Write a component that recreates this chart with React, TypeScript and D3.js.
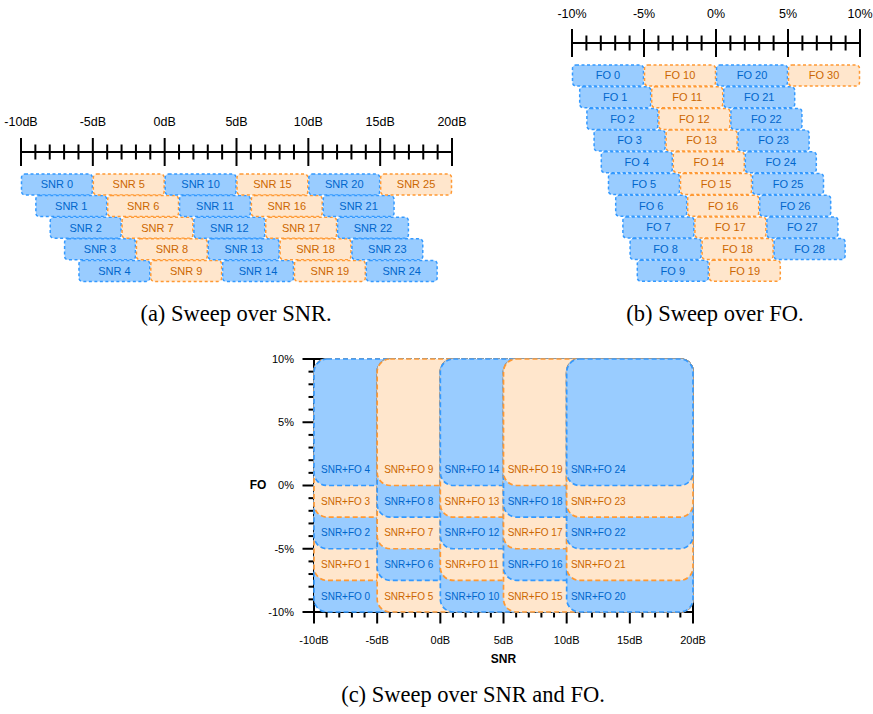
import React from 'react';
import * as d3 from 'd3';

// ---------- Data ----------
// (a) Sweep over SNR: each box spans 5 dB starting at snrStart
const snrIds = [0, 1, 2, 3, 4, 5, 6, 7, 8, 9, 10, 11, 12, 13, 14, 15, 16, 17, 18, 19, 20, 21, 22, 23, 24, 25];
const snrStart = [-10, -9, -8, -7, -6, -5, -4, -3, -2, -1, 0, 1, 2, 3, 4, 5, 6, 7, 8, 9, 10, 11, 12, 13, 14, 15];
const snrRow = [0, 1, 2, 3, 4, 0, 1, 2, 3, 4, 0, 1, 2, 3, 4, 0, 1, 2, 3, 4, 0, 1, 2, 3, 4, 0];
const snrGroup = [0, 0, 0, 0, 0, 1, 1, 1, 1, 1, 0, 0, 0, 0, 0, 1, 1, 1, 1, 1, 0, 0, 0, 0, 0, 1];
const snrSpan = 5;
const snrTickValues = [-10, -5, 0, 5, 10, 15, 20];
const snrTickLabels = ['-10dB', '-5dB', '0dB', '5dB', '10dB', '15dB', '20dB'];

// (b) Sweep over FO: each box spans 5 % starting at foStart
const foIds = [0, 1, 2, 3, 4, 5, 6, 7, 8, 9, 10, 11, 12, 13, 14, 15, 16, 17, 18, 19, 20, 21, 22, 23, 24, 25, 26, 27, 28, 30];
const foStart = [-10, -9.5, -9, -8.5, -8, -7.5, -7, -6.5, -6, -5.5, -5, -4.5, -4, -3.5, -3, -2.5, -2, -1.5, -1, -0.5, 0, 0.5, 1, 1.5, 2, 2.5, 3, 3.5, 4, 5];
const foRow = [0, 1, 2, 3, 4, 5, 6, 7, 8, 9, 0, 1, 2, 3, 4, 5, 6, 7, 8, 9, 0, 1, 2, 3, 4, 5, 6, 7, 8, 0];
const foGroup = [0, 0, 0, 0, 0, 0, 0, 0, 0, 0, 1, 1, 1, 1, 1, 1, 1, 1, 1, 1, 0, 0, 0, 0, 0, 0, 0, 0, 0, 1];
const foSpan = 5;
const foTickValues = [-10, -5, 0, 5, 10];
const foTickLabels = ['-10%', '-5%', '0%', '5%', '10%'];

// (c) Sweep over SNR and FO
const gridColStart = [-10, -5, 0, 5, 10];
const gridRowBottom = [-10, -7.5, -5, -2.5, 0];
const gridRowBand = 2.5;
const gridLabelSpan = 5;

// ---------- Styles ----------
const FILL = ['#99CCFF', '#FFE6CC'];
const STROKE = ['#3399FF', '#FF9933'];
const TEXT = ['#0066CC', '#CC6600'];
const SANS = '"Liberation Sans", Arial, Helvetica, sans-serif';
const SERIF = '"Liberation Serif", "Times New Roman", serif';

// ---------- Scales ----------
const xA = d3.scaleLinear().domain([-10, 20]).range([21, 452]);
const xB = d3.scaleLinear().domain([-10, 10]).range([572, 860]);
const xC = d3.scaleLinear().domain([-10, 20]).range([314, 693]);
const yC = d3.scaleLinear().domain([-10, 10]).range([612, 359]);

function HAxis({ scale, y, majors, minors, labels, labelY, fontSize, majorHalf, minorHalf, width }: any) {
  const [d0, d1] = scale.domain();
  return (
    <g>
      <line x1={scale(d0)} x2={scale(d1)} y1={y} y2={y} stroke="#000" strokeWidth={width} />
      {minors.map((v: number) => (
        <line key={'m' + v} x1={scale(v)} x2={scale(v)} y1={y - minorHalf} y2={y + minorHalf} stroke="#000" strokeWidth={width} />
      ))}
      {majors.map((v: number, i: number) => (
        <g key={'M' + v}>
          <line x1={scale(v)} x2={scale(v)} y1={y - majorHalf} y2={y + majorHalf} stroke="#000" strokeWidth={width} />
          {labels && (
            <text x={scale(v)} y={labelY} textAnchor="middle" fontFamily={SANS} fontSize={fontSize} fill="#000">
              {labels[i]}
            </text>
          )}
        </g>
      ))}
    </g>
  );
}

function VAxis({ scale, x, majors, minors, labels, labelX, fontSize, majorHalf, minorHalf, width }: any) {
  const [d0, d1] = scale.domain();
  return (
    <g>
      <line y1={scale(d0)} y2={scale(d1)} x1={x} x2={x} stroke="#000" strokeWidth={width} />
      {minors.map((v: number) => (
        <line key={'m' + v} y1={scale(v)} y2={scale(v)} x1={x - minorHalf} x2={x + minorHalf} stroke="#000" strokeWidth={width} />
      ))}
      {majors.map((v: number, i: number) => (
        <g key={'M' + v}>
          <line y1={scale(v)} y2={scale(v)} x1={x - majorHalf} x2={x + majorHalf} stroke="#000" strokeWidth={width} />
          <text x={labelX} y={scale(v)} dy="0.35em" textAnchor="end" fontFamily={SANS} fontSize={fontSize} fill="#000">
            {labels[i]}
          </text>
        </g>
      ))}
    </g>
  );
}

export default function App() {
  const snrMinors = d3.range(-10, 21, 1).filter((v) => v % 5 !== 0);
  const foMinors = d3.range(-10, 11, 1).filter((v) => v % 5 !== 0);

  const aTop = 174, aStep = 21.6, aH = 21;
  const bTop = 65, bStep = 21.7, bH = 21;

  // grid boxes in drawing order (colour alternates by column and row)
  const gridBoxes: any[] = [];
  gridColStart.forEach((c, ci) => {
    gridRowBottom.forEach((r, ri) => {
      gridBoxes.push({ id: ci * 5 + ri, c, r, g: (ci + ri) % 2 });
    });
  });

  return (
    <svg width={873} height={714} style={{ position: 'absolute', left: 0, top: 0, background: '#fff' }}>
      {/* (a) */}
      <HAxis scale={xA} y={152} majors={snrTickValues} minors={snrMinors} labels={snrTickLabels}
        labelY={125.5} fontSize={12.5} majorHalf={14} minorHalf={7.5} width={2} />
      {snrIds.map((id, i) => {
        const x0 = xA(snrStart[i]);
        const x1 = xA(snrStart[i] + snrSpan);
        const y = aTop + snrRow[i] * aStep;
        const g = snrGroup[i];
        return (
          <g key={'a' + id}>
            <rect x={x0 + 0.5} y={y} width={x1 - x0 - 1} height={aH} rx={3.5}
              fill={FILL[g]} stroke={STROKE[g]} strokeWidth={1.5} strokeDasharray="3 2.5" />
            <text x={(x0 + x1) / 2} y={y + aH / 2} dy="0.35em" textAnchor="middle" fontFamily={SANS} fontSize={11} fill={TEXT[g]}>
              {'SNR ' + id}
            </text>
          </g>
        );
      })}
      <text x={236} y={321} textAnchor="middle" fontFamily={SERIF} fontSize={22.5} fill="#000">(a) Sweep over SNR.</text>

      {/* (b) */}
      <HAxis scale={xB} y={43} majors={foTickValues} minors={foMinors} labels={foTickLabels}
        labelY={17.5} fontSize={12.5} majorHalf={14} minorHalf={7.5} width={2} />
      {foIds.map((id, i) => {
        const x0 = xB(foStart[i]);
        const x1 = xB(foStart[i] + foSpan);
        const y = bTop + foRow[i] * bStep;
        const g = foGroup[i];
        return (
          <g key={'b' + id}>
            <rect x={x0 + 0.5} y={y} width={x1 - x0 - 1} height={bH} rx={3.5}
              fill={FILL[g]} stroke={STROKE[g]} strokeWidth={1.5} strokeDasharray="3 2.5" />
            <text x={(x0 + x1) / 2} y={y + bH / 2} dy="0.35em" textAnchor="middle" fontFamily={SANS} fontSize={11} fill={TEXT[g]}>
              {'FO ' + id}
            </text>
          </g>
        );
      })}
      <text x={715} y={321} textAnchor="middle" fontFamily={SERIF} fontSize={22.5} fill="#000">(b) Sweep over FO.</text>

      {/* (c) */}
      <HAxis scale={xC} y={612} majors={snrTickValues} minors={snrMinors} labels={snrTickLabels}
        labelY={644} fontSize={11} majorHalf={11.5} minorHalf={5.5} width={2} />
      <VAxis scale={yC} x={314} majors={foTickValues} minors={foMinors} labels={foTickLabels}
        labelX={294} fontSize={11} majorHalf={11.5} minorHalf={5.5} width={2} />
      {gridBoxes.map((b) => {
        const x0 = xC(b.c);
        const x1 = xC(20);
        const yTop = yC(10);
        const yBot = yC(b.r);
        return (
          <rect key={'cr' + b.id} x={x0} y={yTop} width={x1 - x0} height={yBot - yTop} rx={13}
            fill={FILL[b.g]} stroke={STROKE[b.g]} strokeWidth={1.7} strokeDasharray="5 3" />
        );
      })}
      {gridBoxes.map((b) => (
        <text key={'ct' + b.id} x={(xC(b.c) + xC(b.c + gridLabelSpan)) / 2} y={yC(b.r + gridRowBand / 2)} dy="0.35em"
          textAnchor="middle" fontFamily={SANS} fontSize={10} fill={TEXT[b.g]}>
          {'SNR+FO ' + b.id}
        </text>
      ))}
      <text x={258} y={485} dy="0.35em" textAnchor="middle" fontFamily={SANS} fontWeight="bold" fontSize={12} fill="#000">FO</text>
      <text x={503.5} y={663} textAnchor="middle" fontFamily={SANS} fontWeight="bold" fontSize={12} fill="#000">SNR</text>
      <text x={473} y={702} textAnchor="middle" fontFamily={SERIF} fontSize={22.5} fill="#000">(c) Sweep over SNR and FO.</text>
    </svg>
  );
}
